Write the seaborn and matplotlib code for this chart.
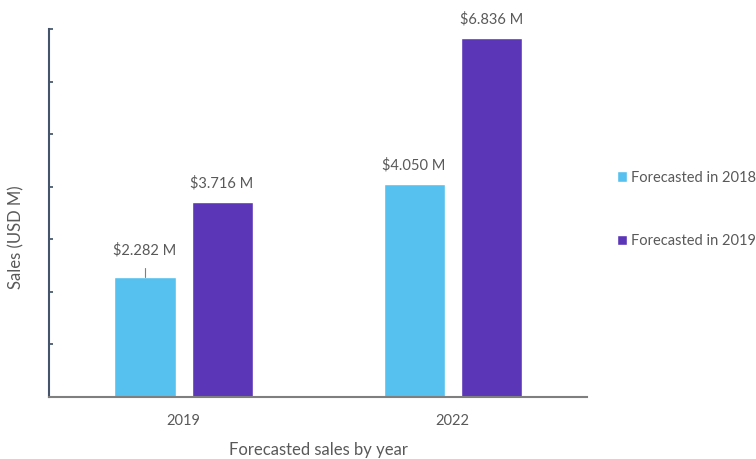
import pandas as pd
import matplotlib.pyplot as plt
import seaborn as sns

years = ['2019', '2022']
forecast_2018 = [2.282, 4.050]
forecast_2019 = [3.716, 6.836]
series_names = ['Forecasted in 2018', 'Forecasted in 2019']
palette = {'Forecasted in 2018': '#56C1EE', 'Forecasted in 2019': '#5B37B7'}

df = pd.DataFrame({
    'year': years * 2,
    'sales': forecast_2018 + forecast_2019,
    'series': [series_names[0]] * 2 + [series_names[1]] * 2,
})

sns.set_theme(style="white")
plt.rcParams['font.family'] = ['Lato', 'DejaVu Sans']
text_col = '#595959'

fig = plt.figure(figsize=(7.56, 4.59), dpi=100)
ax = fig.add_axes([0.0648, 0.135, 0.712, 0.802])

sns.barplot(data=df, x='year', y='sales', hue='series', order=years,
            hue_order=series_names, palette=palette, width=0.573, gap=0.208,
            saturation=1, ax=ax)

# value labels (first one sits higher, with a small leader line)
for ci, cont in enumerate(ax.containers):
    for bi, bar in enumerate(cont):
        h = bar.get_height()
        cx = bar.get_x() + bar.get_width() / 2
        off = 14 if (ci == 0 and bi == 0) else 8
        ax.annotate(f'${h:.3f} M', (cx, h), xytext=(0, off), textcoords='offset points',
                    ha='center', va='bottom', fontsize=10.5, color=text_col)
b0 = ax.containers[0][0]
ax.plot([b0.get_x() + b0.get_width() / 2] * 2, [b0.get_height(), b0.get_height() + 0.17],
        color='#7f7f7f', lw=0.8)

ax.set_xlim(-0.5, 1.5)
ax.set_ylim(0, 7)
ax.set_yticks(range(0, 8))
ax.set_yticklabels([])
ax.tick_params(axis='y', direction='in', length=3, color='#44546A', left=True)
ax.tick_params(axis='x', length=0, labelsize=10.5, labelcolor=text_col, pad=12)

for s in ['top', 'right']:
    ax.spines[s].set_visible(False)
ax.spines['left'].set_color('#44546A')
ax.spines['left'].set_linewidth(1.5)
ax.spines['bottom'].set_color('#7f7f7f')
ax.spines['bottom'].set_linewidth(1.5)

ax.set_xlabel('Forecasted sales by year', fontsize=12, color=text_col, labelpad=10)
ax.set_ylabel('Sales (USD M)', fontsize=12, color=text_col)
ax.yaxis.set_label_coords(-0.045, 0.435)

ax.legend(loc='center left', bbox_to_anchor=(1.03, 0.51), frameon=False,
          fontsize=10.5, labelcolor=text_col, handlelength=0.7, handleheight=0.7,
          handletextpad=0.3, labelspacing=3.4)

plt.savefig('out.png', dpi=100)
